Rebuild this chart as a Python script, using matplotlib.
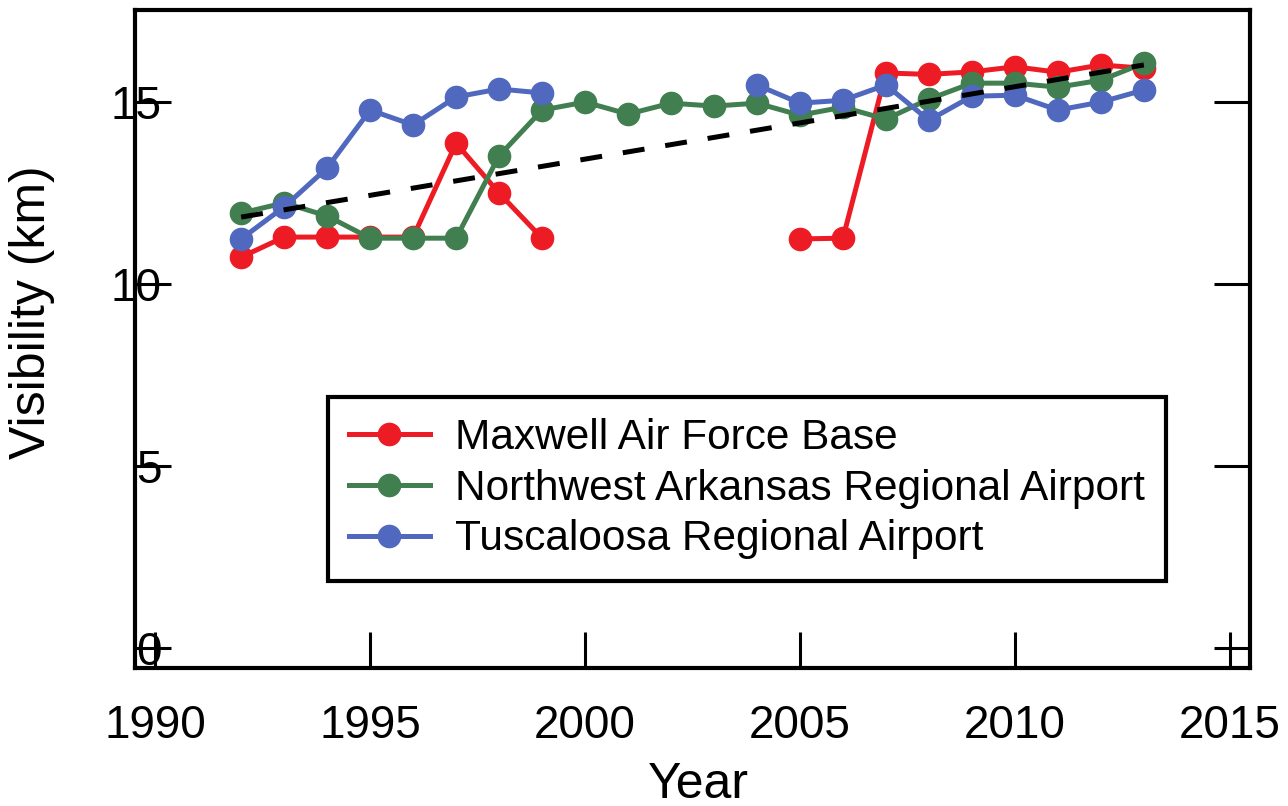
import matplotlib
matplotlib.use("Agg")
import matplotlib.pyplot as plt
import numpy as np

plt.rcParams['font.family'] = ['Liberation Sans', 'DejaVu Sans']

years = list(range(1992, 2014))
maxwell = [10.74, 11.29, 11.29, 11.29, 11.29, 13.87, 12.50, 11.26,
           None, None, None, None, None,
           11.24, 11.26, 15.80, 15.76, 15.83, 15.97, 15.82, 16.02, 15.93]
northwest = [11.95, 12.23, 11.87, 11.26, 11.26, 11.26, 13.52, 14.78,
             15.00, 14.67, 14.97, 14.89, 14.97,
             14.64, 14.86, 14.53, 15.08, 15.52, 15.52, 15.41, 15.60, 16.07]
tuscaloosa = [11.24, 12.12, 13.19, 14.78, 14.37, 15.14, 15.36, 15.25,
              None, None, None, None, 15.47,
              14.97, 15.05, 15.47, 14.50, 15.16, 15.19, 14.78, 15.00, 15.33]
trend_years = [1992, 2013]
trend_vals = [11.84, 16.02]

series_names = ["Maxwell Air Force Base",
                "Northwest Arkansas Regional Airport",
                "Tuscaloosa Regional Airport"]
series_colors = ["#ED1C24", "#417F51", "#5069BE"]
xticks = [1990, 1995, 2000, 2005, 2010, 2015]
yticks = [0, 5, 10, 15]

fig = plt.figure(figsize=(12.88, 8.06), dpi=100)
ax = fig.add_axes([135/1288, 1 - 668/806, (1250-135)/1288, (668-10)/806])

for name, vals, col in zip(series_names, [maxwell, northwest, tuscaloosa], series_colors):
    y = np.array([np.nan if v is None else v for v in vals], dtype=float)
    ax.plot(years, y, color=col, lw=3.6, marker='o', ms=16, label=name)

ax.plot(trend_years, trend_vals, color='black', lw=3.6, ls=(0, (4.4, 4.2)))

ax.set_xlim(1989.53, 2015.47)
ax.set_ylim(-0.55, 17.53)
ax.set_xticks(xticks)
ax.set_yticks(yticks)
ax.tick_params(axis='x', direction='in', length=26, width=2.2, labelsize=33, pad=26, bottom=True, top=False)
ax.tick_params(axis='y', direction='in', length=26, width=2.2, labelsize=33, pad=-19, left=True, right=True)
for s in ax.spines.values():
    s.set_linewidth(3)

ax.set_xlabel("Year", fontsize=36)
ax.xaxis.set_label_coords(0.505, -0.143)
ax.set_ylabel("Visibility (km)", fontsize=36)
ax.yaxis.set_label_coords(-0.072, 0.541)

leg = ax.legend(loc='upper left', bbox_to_anchor=((328-135)/1115, (668-397)/658),
                fontsize=30.5, frameon=True, fancybox=False, framealpha=1, handlelength=1.9,
                handletextpad=0.6, borderpad=0.5, labelspacing=0.25, borderaxespad=0)
leg.get_frame().set_edgecolor('black')
leg.get_frame().set_linewidth(3)

fig.savefig("out.png", dpi=100)
